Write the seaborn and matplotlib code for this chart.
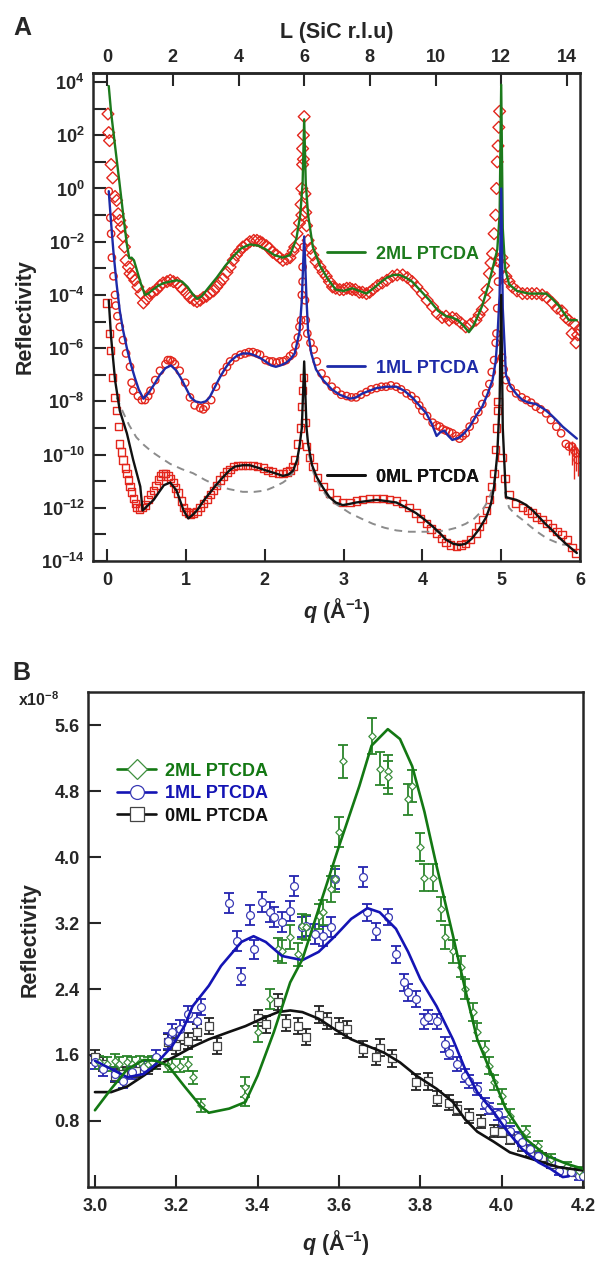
import numpy as np
import matplotlib
matplotlib.use('Agg')
import matplotlib.pyplot as plt
import seaborn as sns
from matplotlib.lines import Line2D
from matplotlib.ticker import NullLocator

sns.set_style('ticks')
plt.rcParams['font.family'] = ['Liberation Sans', 'DejaVu Sans']
plt.rcParams['font.weight'] = 'bold'
plt.rcParams['axes.labelweight'] = 'bold'
plt.rcParams['mathtext.fontset'] = 'custom'
plt.rcParams['mathtext.rm'] = 'Liberation Sans:bold'
plt.rcParams['mathtext.bf'] = 'Liberation Sans:bold'
plt.rcParams['mathtext.it'] = 'Liberation Sans:italic:bold'
plt.rcParams['mathtext.default'] = 'rm'

# ---------------- panel A data (q in 1/A, log10 reflectivity) ----------------
# 2ML PTCDA data (diamonds)
ml2_q = [0.01, 0.02, 0.03, 0.05, 0.07, 0.10, 0.12, 0.14, 0.16, 0.18,
         0.20, 0.22, 0.24, 0.27, 0.29, 0.32, 0.35, 0.39, 0.43, 0.46,
         0.50, 0.54, 0.58, 0.63, 0.67, 0.71, 0.76, 0.80, 0.84, 0.89,
         0.93, 0.96, 1.01, 1.05, 1.10, 1.14, 1.18, 1.22, 1.26, 1.30,
         1.35, 1.39, 1.43, 1.47, 1.52, 1.56, 1.60, 1.64, 1.68, 1.72,
         1.77, 1.81, 1.86, 1.90, 1.94, 1.97, 2.02, 2.06, 2.10, 2.15,
         2.19, 2.23, 2.28, 2.32, 2.36, 2.38, 2.41, 2.44, 2.46, 2.47,
         2.47, 2.48, 2.48, 2.49, 2.49, 2.50, 2.51, 2.52, 2.53, 2.55,
         2.58, 2.61, 2.65, 2.70, 2.74, 2.78, 2.82, 2.86, 2.90, 2.95,
         3.00, 3.04, 3.08, 3.11, 3.15, 3.20, 3.24, 3.29, 3.33, 3.37,
         3.43, 3.49, 3.55, 3.62, 3.68, 3.75, 3.81, 3.87, 3.93, 4.00,
         4.06, 4.13, 4.19, 4.25, 4.30, 4.34, 4.38, 4.43, 4.49, 4.55,
         4.61, 4.68, 4.72, 4.76, 4.79, 4.82, 4.85, 4.87, 4.89, 4.91,
         4.93, 4.94, 4.95, 4.96, 4.97, 4.98, 5.01, 5.03, 5.06, 5.10,
         5.14, 5.20, 5.27, 5.33, 5.39, 5.45, 5.52, 5.58, 5.65, 5.71,
         5.77, 5.82, 5.86, 5.90, 5.93, 5.95, 5.97, 5.99]
ml2_logR = [2.8, 2.1, 1.8, 0.9, 0.4, -0.3, -0.45, -0.95, -1.2, -1.45,
            -1.8, -2.2, -2.7, -2.95, -3.2, -3.3, -3.45, -3.7, -3.95, -4.3,
            -4.15, -3.95, -3.9, -3.8, -3.65, -3.55, -3.5, -3.45, -3.5, -3.55,
            -3.7, -3.8, -3.95, -4.1, -4.2, -4.25, -4.2, -4.1, -4.05, -3.95,
            -3.85, -3.7, -3.55, -3.4, -3.15, -2.95, -2.7, -2.5, -2.35, -2.2,
            -2.1, -2.0, -1.95, -1.95, -2.0, -2.05, -2.15, -2.25, -2.4, -2.5,
            -2.6, -2.7, -2.65, -2.6, -2.35, -2.2, -1.7, -1.3, -0.6, 0.0,
            -1.0, 0.9, 1.5, 2.0, 1.1, 2.7, -0.2, -0.9, -1.4, -1.95,
            -2.25, -2.5, -2.75, -2.95, -3.15, -3.3, -3.5, -3.7, -3.75, -3.8,
            -3.8, -3.75, -3.75, -3.8, -3.8, -3.9, -3.9, -3.95, -3.9, -3.8,
            -3.65, -3.55, -3.45, -3.3, -3.25, -3.25, -3.35, -3.5, -3.7, -3.95,
            -4.2, -4.45, -4.7, -4.85, -4.8, -4.95, -4.85, -4.9, -5.05, -5.2,
            -5.1, -4.95, -4.75, -4.55, -4.1, -3.8, -3.2, -2.8, -2.45, -1.7,
            -1.0, 0.0, 1.0, 1.6, 2.3, 2.9, -2.6, -2.9, -3.3, -3.5,
            -3.7, -3.85, -3.95, -3.95, -3.95, -3.95, -4.0, -4.1, -4.3, -4.5,
            -4.6, -4.85, -4.95, -5.45, -5.1, -5.8, -5.5, -5.3]

# 2ML PTCDA fit
ml2_fit_q = [0.02, 0.05, 0.10, 0.15, 0.20, 0.25, 0.28, 0.31, 0.34, 0.38,
             0.43, 0.48, 0.52, 0.58, 0.65, 0.72, 0.80, 0.88, 0.95, 1.02,
             1.08, 1.14, 1.20, 1.28, 1.39, 1.50, 1.60, 1.70, 1.81, 1.92,
             2.02, 2.12, 2.23, 2.32, 2.40, 2.45, 2.48, 2.50, 2.52, 2.55,
             2.61, 2.70, 2.80, 2.90, 3.00, 3.11, 3.20, 3.29, 3.38, 3.46,
             3.55, 3.63, 3.71, 3.79, 3.87, 3.98, 4.09, 4.20, 4.30, 4.38,
             4.45, 4.52, 4.59, 4.64, 4.68, 4.76, 4.84, 4.90, 4.95, 4.98,
             5.00, 5.02, 5.05, 5.10, 5.20, 5.35, 5.50, 5.57, 5.65, 5.73,
             5.80, 5.86, 5.92, 5.96]
ml2_fit_logR = [3.85, 2.85, 1.6, 0.37, -0.9, -2.1, -2.62, -2.6, -2.7, -3.1,
                -3.6, -4.0, -3.95, -3.8, -3.65, -3.55, -3.5, -3.45, -3.5, -3.7,
                -3.95, -4.15, -4.05, -3.75, -3.35, -2.9, -2.55, -2.25, -2.1, -2.15,
                -2.3, -2.5, -2.6, -2.5, -1.9, -1.0, 0.2, 2.6, 0.2, -1.0,
                -2.2, -2.9, -3.4, -3.8, -3.85, -3.75, -3.85, -3.95, -3.75, -3.55,
                -3.35, -3.25, -3.25, -3.35, -3.5, -3.85, -4.2, -4.6, -4.8, -4.85,
                -4.95, -5.15, -5.4, -5.2, -4.95, -4.4, -3.6, -2.9, -2.3, -1.0,
                3.9, -1.5, -3.0, -3.6, -3.85, -3.95, -3.95, -3.95, -4.15, -4.4,
                -4.7, -4.95, -4.95, -4.95]

# 1ML PTCDA data (circles)
ml1_q = [0.02, 0.04, 0.05, 0.06, 0.08, 0.10, 0.11, 0.13, 0.16, 0.20,
         0.24, 0.29, 0.31, 0.33, 0.39, 0.44, 0.48, 0.52, 0.55, 0.61,
         0.67, 0.74, 0.77, 0.80, 0.83, 0.86, 0.92, 0.99, 1.05, 1.11,
         1.18, 1.22, 1.25, 1.32, 1.38, 1.47, 1.52, 1.56, 1.63, 1.69,
         1.75, 1.80, 1.85, 1.90, 1.94, 2.01, 2.06, 2.10, 2.15, 2.19,
         2.23, 2.27, 2.32, 2.36, 2.39, 2.42, 2.44, 2.46, 2.47, 2.48,
         2.48, 2.49, 2.51, 2.52, 2.54, 2.58, 2.62, 2.66, 2.72, 2.78,
         2.85, 2.91, 2.97, 3.04, 3.10, 3.16, 3.22, 3.29, 3.35, 3.42,
         3.48, 3.54, 3.60, 3.67, 3.73, 3.80, 3.86, 3.92, 3.96, 4.00,
         4.06, 4.13, 4.18, 4.22, 4.26, 4.30, 4.34, 4.38, 4.43, 4.47,
         4.51, 4.55, 4.60, 4.66, 4.71, 4.76, 4.81, 4.85, 4.88, 4.91,
         4.93, 4.94, 4.95, 4.96, 4.97, 5.01, 5.03, 5.06, 5.12, 5.19,
         5.26, 5.32, 5.38, 5.44, 5.50, 5.57, 5.63, 5.70, 5.76, 5.82,
         5.86, 5.90, 5.93, 5.95, 5.97]
ml1_logR = [-0.1, -1.1, -1.7, -2.6, -3.3, -4.0, -4.4, -4.8, -5.2, -5.7,
            -6.2, -6.7, -7.3, -7.6, -7.8, -7.95, -7.95, -7.8, -7.6, -7.2,
            -6.85, -6.6, -6.45, -6.45, -6.5, -6.6, -6.85, -7.3, -7.85, -8.15,
            -8.25, -8.3, -8.2, -7.95, -7.45, -6.9, -6.7, -6.5, -6.35, -6.25,
            -6.2, -6.15, -6.15, -6.2, -6.25, -6.45, -6.5, -6.5, -6.55, -6.5,
            -6.5, -6.45, -6.3, -6.2, -5.9, -5.6, -5.2, -4.95, -4.0, -2.95,
            -3.5, -2.2, -4.2, -4.95, -5.45, -5.8, -6.05, -6.5, -6.95, -7.2,
            -7.45, -7.6, -7.75, -7.8, -7.85, -7.85, -7.75, -7.65, -7.55, -7.5,
            -7.45, -7.45, -7.4, -7.45, -7.55, -7.7, -7.8, -7.95, -8.15, -8.35,
            -8.55, -8.8, -8.9, -8.95, -9.05, -9.1, -9.15, -9.2, -9.3, -9.4,
            -9.3, -9.2, -8.95, -8.7, -8.4, -8.1, -7.7, -7.35, -6.9, -6.45,
            -5.8, -5.45, -4.5, -3.5, -2.8, -6.35, -6.8, -7.2, -7.5, -7.7,
            -7.85, -7.95, -8.05, -8.2, -8.3, -8.45, -8.7, -8.95, -9.2, -9.6,
            -9.7, -9.7, -9.85, -9.95, -10.2]
# error bars at the high-q end of 1ML
ml1_err_q = [5.86, 5.90, 5.93, 5.95, 5.97]
ml1_err_lo = [-10.0, -10.4, -10.9, -10.6, -10.8]
ml1_err_hi = [-9.5, -9.5, -9.6, -9.7, -9.9]

# 1ML PTCDA fit
ml1_fit_q = [0.02, 0.05, 0.08, 0.12, 0.16, 0.20, 0.25, 0.30, 0.35, 0.40,
             0.46, 0.52, 0.60, 0.67, 0.74, 0.81, 0.88, 0.94, 1.00, 1.06,
             1.12, 1.19, 1.25, 1.30, 1.36, 1.43, 1.50, 1.56, 1.64, 1.72,
             1.80, 1.85, 1.93, 2.01, 2.08, 2.14, 2.20, 2.27, 2.33, 2.38,
             2.44, 2.47, 2.50, 2.53, 2.55, 2.59, 2.65, 2.74, 2.85, 2.95,
             3.08, 3.16, 3.24, 3.33, 3.42, 3.55, 3.67, 3.77, 3.87, 3.96,
             4.05, 4.12, 4.18, 4.23, 4.28, 4.33, 4.38, 4.43, 4.47, 4.53,
             4.60, 4.68, 4.76, 4.83, 4.89, 4.93, 4.95, 4.98, 5.00, 5.02,
             5.06, 5.12, 5.20, 5.27, 5.35, 5.44, 5.55, 5.63, 5.70, 5.78,
             5.86, 5.96]
ml1_fit_logR = [-0.1, -1.3, -2.4, -3.6, -4.6, -5.3, -6.0, -6.6, -7.1, -7.55,
                -7.9, -7.7, -7.35, -7.0, -6.75, -6.65, -6.85, -7.15, -7.5, -7.85,
                -8.0, -8.05, -8.0, -7.85, -7.5, -7.1, -6.75, -6.5, -6.3, -6.2,
                -6.2, -6.25, -6.35, -6.5, -6.65, -6.7, -6.65, -6.55, -6.4, -6.2,
                -5.4, -4.2, -1.8, -4.2, -5.4, -6.2, -6.8, -7.2, -7.55, -7.75,
                -7.9, -7.85, -7.7, -7.6, -7.5, -7.45, -7.45, -7.6, -7.85, -8.15,
                -8.45, -8.85, -9.3, -9.15, -9.1, -9.3, -9.45, -9.4, -9.35, -9.2,
                -8.95, -8.55, -8.2, -7.7, -7.2, -6.5, -5.7, -4.0, 0.0, -4.5,
                -7.0, -7.45, -7.75, -7.95, -8.05, -8.1, -8.3, -8.5, -8.7, -8.95,
                -9.15, -9.4]

# 0ML PTCDA data (squares)
ml0_q = [0.00, 0.03, 0.04, 0.07, 0.10, 0.12, 0.14, 0.16, 0.18, 0.20,
         0.23, 0.25, 0.27, 0.29, 0.31, 0.33, 0.36, 0.38, 0.41, 0.44,
         0.48, 0.52, 0.55, 0.59, 0.62, 0.65, 0.68, 0.71, 0.74, 0.77,
         0.80, 0.84, 0.87, 0.90, 0.94, 0.97, 1.00, 1.03, 1.06, 1.09,
         1.14, 1.18, 1.22, 1.27, 1.31, 1.35, 1.39, 1.43, 1.48, 1.52,
         1.56, 1.60, 1.66, 1.72, 1.78, 1.85, 1.91, 1.98, 2.04, 2.10,
         2.17, 2.23, 2.28, 2.32, 2.36, 2.38, 2.42, 2.45, 2.47, 2.48,
         2.49, 2.51, 2.53, 2.57, 2.61, 2.67, 2.74, 2.82, 2.91, 2.99,
         3.08, 3.16, 3.24, 3.33, 3.42, 3.50, 3.58, 3.67, 3.75, 3.83,
         3.92, 3.98, 4.05, 4.11, 4.18, 4.24, 4.30, 4.36, 4.43, 4.49,
         4.55, 4.61, 4.68, 4.72, 4.76, 4.81, 4.85, 4.88, 4.91, 4.93,
         4.94, 4.95, 4.96, 5.01, 5.05, 5.10, 5.18, 5.27, 5.33, 5.39,
         5.45, 5.52, 5.58, 5.65, 5.71, 5.77, 5.84, 5.90, 5.95]
ml0_logR = [-4.3, -5.45, -6.1, -7.1, -7.85, -8.35, -8.95, -9.6, -9.9, -10.2,
            -10.5, -10.7, -10.95, -11.2, -11.4, -11.65, -11.85, -12.0, -12.05, -12.0,
            -11.9, -11.7, -11.5, -11.35, -11.15, -10.95, -10.8, -10.7, -10.7, -10.8,
            -10.9, -11.05, -11.25, -11.45, -11.75, -12.0, -12.15, -12.2, -12.25, -12.2,
            -12.15, -12.0, -11.85, -11.7, -11.5, -11.35, -11.15, -10.95, -10.8, -10.65,
            -10.55, -10.45, -10.4, -10.4, -10.4, -10.4, -10.45, -10.5, -10.6, -10.65,
            -10.7, -10.7, -10.65, -10.6, -10.45, -10.2, -9.6, -9.0, -8.2, -7.6,
            -7.1, -8.8, -9.7, -10.1, -10.45, -10.85, -11.2, -11.45, -11.7, -11.8,
            -11.8, -11.75, -11.7, -11.65, -11.65, -11.65, -11.7, -11.75, -11.85, -12.0,
            -12.2, -12.4, -12.6, -12.8, -12.95, -13.15, -13.3, -13.4, -13.45, -13.4,
            -13.35, -13.2, -12.95, -12.7, -12.45, -12.1, -11.7, -11.2, -10.7, -9.8,
            -9.0, -8.35, -8.0, -10.1, -10.9, -11.5, -11.85, -12.0, -12.1, -12.2,
            -12.35, -12.45, -12.6, -12.75, -12.9, -13.0, -13.2, -13.5, -13.7]

# 0ML PTCDA fit
ml0_fit_q = [0.02, 0.05, 0.10, 0.16, 0.25, 0.33, 0.42, 0.45, 0.52, 0.59,
             0.66, 0.72, 0.80, 0.88, 0.97, 1.03, 1.09, 1.14, 1.22, 1.30,
             1.38, 1.47, 1.55, 1.62, 1.72, 1.81, 1.92, 2.02, 2.13, 2.23,
             2.30, 2.36, 2.41, 2.44, 2.47, 2.50, 2.53, 2.55, 2.60, 2.66,
             2.74, 2.82, 2.90, 2.99, 3.08, 3.16, 3.29, 3.42, 3.55, 3.67,
             3.80, 3.92, 4.03, 4.13, 4.22, 4.30, 4.39, 4.47, 4.55, 4.63,
             4.72, 4.81, 4.87, 4.91, 4.95, 4.98, 5.00, 5.02, 5.06, 5.12,
             5.19, 5.26, 5.32, 5.40, 5.48, 5.56, 5.65, 5.73, 5.82, 5.90,
             5.96]
ml0_fit_logR = [-4.2, -5.6, -7.2, -8.35, -9.2, -10.2, -11.2, -12.1, -11.9, -11.7,
                -11.4, -11.15, -11.05, -11.35, -12.1, -12.4, -12.25, -12.1, -11.75, -11.45,
                -11.15, -10.85, -10.6, -10.45, -10.4, -10.4, -10.5, -10.6, -10.7, -10.8,
                -10.75, -10.6, -10.2, -9.7, -9.0, -6.5, -9.0, -9.6, -10.4, -10.85,
                -11.25, -11.6, -11.8, -11.9, -11.85, -11.8, -11.75, -11.7, -11.75, -11.8,
                -12.0, -12.2, -12.45, -12.7, -12.95, -13.2, -13.35, -13.4, -13.35, -13.15,
                -12.8, -12.35, -11.85, -11.2, -10.0, -8.0, -4.0, -9.0, -11.6, -11.65,
                -11.7, -11.8, -11.9, -12.1, -12.35, -12.6, -12.85, -13.1, -13.35, -13.55,
                -13.7]

# bare substrate CTR (dashed), three branches between Bragg peaks
ctr1_q = [0.12, 0.20, 0.28, 0.37, 0.47, 0.57, 0.67, 0.80, 0.95, 1.09,
          1.24, 1.38, 1.55, 1.72, 1.87, 2.01, 2.13, 2.23, 2.30, 2.35, 2.40, 2.44]
ctr1_logR = [-7.85, -8.4, -8.9, -9.35, -9.65, -9.9, -10.1, -10.35, -10.55, -10.7,
             -10.95, -11.15, -11.3, -11.4, -11.4, -11.35, -11.2, -11.05, -10.9, -10.7, -10.4, -9.9]
ctr2_q = [2.56, 2.62, 2.70, 2.82, 2.95, 3.08, 3.22, 3.37, 3.52, 3.67,
          3.83, 4.00, 4.15, 4.30, 4.43, 4.55, 4.66, 4.76, 4.84, 4.90, 4.94]
ctr2_logR = [-10.0, -10.7, -11.2, -11.7, -11.95, -12.2, -12.4, -12.6, -12.75, -12.85,
             -12.9, -12.9, -12.9, -12.85, -12.75, -12.6, -12.4, -12.1, -11.7, -11.2, -10.5]
ctr3_q = [5.05, 5.10, 5.18, 5.27, 5.37, 5.48, 5.58, 5.70, 5.78, 5.86]
ctr3_logR = [-11.4, -12.0, -12.25, -12.45, -12.7, -12.95, -13.15, -13.3, -13.38, -13.4]

# ---------------- panel B data (x1e-8) ----------------
b2_q = [3.01, 3.03, 3.05, 3.06, 3.08, 3.09, 3.11, 3.13, 3.14, 3.18,
        3.19, 3.21, 3.23, 3.24, 3.26, 3.37, 3.37, 3.40, 3.43, 3.45,
        3.46, 3.48, 3.50, 3.51, 3.52, 3.55, 3.56, 3.58, 3.59, 3.60,
        3.61, 3.68, 3.70, 3.72, 3.72, 3.77, 3.78, 3.80, 3.81, 3.83,
        3.85, 3.86, 3.88, 3.90, 3.91, 3.93, 3.94, 3.96, 3.97, 3.98,
        4.00, 4.02, 4.06, 4.09, 4.12, 4.16, 4.19]
b2_val = [1.51, 1.49, 1.53, 1.49, 1.51, 1.49, 1.51, 1.49, 1.51, 1.47,
          1.47, 1.47, 1.49, 1.33, 0.99, 1.10, 1.21, 1.88, 2.28, 2.88,
          2.86, 3.03, 2.82, 3.16, 3.15, 3.28, 3.33, 3.61, 3.73, 4.30,
          5.16, 5.47, 5.07, 5.04, 4.97, 4.70, 4.86, 4.12, 3.75, 3.75,
          3.37, 3.03, 2.86, 2.67, 2.40, 2.12, 1.88, 1.67, 1.47, 1.27,
          1.10, 0.86, 0.67, 0.50, 0.34, 0.25, 0.19]
b2_err = [0.08, 0.08, 0.08, 0.08, 0.08, 0.08, 0.08, 0.08, 0.08, 0.08,
          0.08, 0.08, 0.08, 0.08, 0.08, 0.12, 0.12, 0.12, 0.12, 0.14,
          0.14, 0.14, 0.14, 0.15, 0.15, 0.15, 0.15, 0.16, 0.16, 0.18,
          0.20, 0.22, 0.20, 0.20, 0.20, 0.19, 0.19, 0.17, 0.16, 0.16,
          0.15, 0.14, 0.14, 0.13, 0.12, 0.11, 0.11, 0.10, 0.10, 0.09,
          0.09, 0.08, 0.07, 0.06, 0.06, 0.05, 0.05]

b1_q = [3.00, 3.02, 3.05, 3.07, 3.09, 3.12, 3.15, 3.18, 3.19, 3.21,
        3.23, 3.25, 3.26, 3.33, 3.35, 3.36, 3.38, 3.39, 3.41, 3.43,
        3.44, 3.46, 3.48, 3.49, 3.51, 3.52, 3.54, 3.56, 3.58, 3.59,
        3.66, 3.67, 3.69, 3.72, 3.74, 3.76, 3.77, 3.79, 3.81, 3.82,
        3.84, 3.86, 3.87, 3.89, 3.91, 3.92, 3.94, 3.96, 3.97, 3.99,
        4.00, 4.02, 4.04, 4.05, 4.07, 4.09, 4.12, 4.14, 4.17, 4.19,
        4.20]
b1_val = [1.51, 1.43, 1.37, 1.28, 1.39, 1.45, 1.58, 1.77, 1.88, 1.92,
          2.10, 2.01, 2.18, 3.44, 2.98, 2.55, 3.30, 2.88, 3.45, 3.33,
          3.27, 3.21, 3.35, 3.65, 3.15, 3.16, 3.07, 3.04, 3.15, 3.73,
          3.76, 3.33, 3.10, 3.27, 2.82, 2.48, 2.36, 2.28, 2.01, 2.06,
          2.01, 1.73, 1.63, 1.49, 1.35, 1.28, 1.19, 1.01, 0.95, 0.88,
          0.79, 0.68, 0.61, 0.55, 0.46, 0.38, 0.30, 0.19, 0.18, 0.13,
          0.13]
b1_err = [0.08, 0.08, 0.08, 0.08, 0.08, 0.08, 0.08, 0.10, 0.10, 0.10,
          0.10, 0.10, 0.10, 0.12, 0.12, 0.10, 0.12, 0.12, 0.12, 0.12,
          0.12, 0.12, 0.12, 0.12, 0.12, 0.12, 0.12, 0.12, 0.12, 0.12,
          0.12, 0.10, 0.10, 0.10, 0.10, 0.10, 0.10, 0.10, 0.09, 0.09,
          0.09, 0.09, 0.08, 0.08, 0.08, 0.08, 0.07, 0.07, 0.07, 0.07,
          0.06, 0.06, 0.06, 0.05, 0.05, 0.05, 0.05, 0.05, 0.04, 0.04,
          0.04]

b0_q = [3.00, 3.02, 3.05, 3.07, 3.10, 3.13, 3.15, 3.18, 3.20, 3.21,
        3.23, 3.25, 3.28, 3.30, 3.40, 3.42, 3.45, 3.47, 3.50, 3.52,
        3.55, 3.57, 3.60, 3.62, 3.66, 3.69, 3.70, 3.73, 3.79, 3.82,
        3.84, 3.87, 3.89, 3.92, 3.95, 3.98, 4.00, 4.02, 4.05, 4.07,
        4.10, 4.12, 4.15, 4.18]
b0_val = [1.58, 1.49, 1.35, 1.37, 1.41, 1.45, 1.51, 1.76, 1.71, 1.83,
          1.77, 1.88, 1.95, 1.71, 2.05, 1.97, 2.24, 1.99, 1.95, 1.82,
          2.09, 2.01, 1.95, 1.91, 1.67, 1.58, 1.69, 1.56, 1.27, 1.28,
          1.07, 1.02, 0.95, 0.86, 0.79, 0.68, 0.67, 0.58, 0.50, 0.42,
          0.36, 0.28, 0.18, 0.18]
b0_err = [0.08, 0.08, 0.08, 0.08, 0.08, 0.08, 0.08, 0.10, 0.10, 0.10,
          0.10, 0.10, 0.10, 0.10, 0.10, 0.10, 0.10, 0.10, 0.10, 0.10,
          0.10, 0.10, 0.10, 0.10, 0.10, 0.10, 0.10, 0.10, 0.10, 0.10,
          0.09, 0.09, 0.08, 0.08, 0.08, 0.07, 0.07, 0.06, 0.06, 0.05,
          0.05, 0.05, 0.04, 0.04]

b2_fit_q = [3.00, 3.04, 3.08, 3.12, 3.15, 3.18, 3.22, 3.26, 3.28, 3.33,
            3.37, 3.40, 3.44, 3.48, 3.51, 3.55, 3.60, 3.65, 3.68, 3.72,
            3.75, 3.78, 3.81, 3.84, 3.88, 3.91, 3.94, 3.98, 4.01, 4.06,
            4.11, 4.16, 4.20]
b2_fit_val = [0.93, 1.19, 1.43, 1.54, 1.53, 1.47, 1.22, 0.98, 0.90, 0.95,
              1.03, 1.35, 1.88, 2.48, 2.76, 3.37, 4.13, 4.86, 5.35, 5.55,
              5.43, 5.10, 4.55, 3.89, 3.05, 2.40, 1.79, 1.31, 0.95, 0.58,
              0.38, 0.28, 0.22]
b1_fit_q = [3.00, 3.04, 3.08, 3.12, 3.15, 3.19, 3.22, 3.24, 3.28, 3.31,
            3.36, 3.39, 3.42, 3.46, 3.51, 3.55, 3.59, 3.63, 3.67, 3.70,
            3.74, 3.77, 3.80, 3.84, 3.88, 3.91, 3.94, 3.98, 4.01, 4.05,
            4.09, 4.12, 4.15, 4.165]
b1_fit_val = [1.53, 1.43, 1.33, 1.37, 1.49, 1.71, 1.95, 2.19, 2.44, 2.68,
              2.97, 3.04, 2.97, 2.80, 2.75, 2.85, 3.04, 3.25, 3.38, 3.33,
              3.13, 2.85, 2.52, 2.19, 1.79, 1.43, 1.15, 0.91, 0.70, 0.46,
              0.30, 0.22, 0.12, 0.13]
b0_fit_q = [3.00, 3.04, 3.08, 3.12, 3.16, 3.20, 3.24, 3.28, 3.33, 3.37,
            3.41, 3.45, 3.48, 3.51, 3.55, 3.59, 3.63, 3.67, 3.71, 3.75,
            3.79, 3.84, 3.88, 3.91, 3.94, 3.98, 4.02, 4.06, 4.10, 4.14,
            4.20]
b0_fit_val = [1.15, 1.15, 1.22, 1.35, 1.49, 1.59, 1.70, 1.79, 1.88, 1.95,
              2.04, 2.12, 2.14, 2.12, 2.04, 1.91, 1.79, 1.71, 1.63, 1.51,
              1.35, 1.19, 1.03, 0.82, 0.67, 0.55, 0.42, 0.36, 0.30, 0.24,
              0.20]

labels = ['2ML PTCDA', '1ML PTCDA', '0ML PTCDA']
a_decades = list(range(-14, 5))
a_xticks = [0, 1, 2, 3, 4, 5, 6]
L_ticks = [0, 2, 4, 6, 8, 10, 12, 14]
b_xticks = [3.0, 3.2, 3.4, 3.6, 3.8, 4.0, 4.2]
b_yticks = [0.8, 1.6, 2.4, 3.2, 4.0, 4.8, 5.6]

red = '#e3261c'
green = '#1c7a1c'
blue = '#1d2aa8'
black = '#111111'
gray = '#8c8c8c'

fig = plt.figure(figsize=(5.98, 12.61), dpi=100)
axA = fig.add_axes([0.1555, 0.5551, 0.8144, 0.387])
axB = fig.add_axes([0.1472, 0.0587, 0.8278, 0.3925])

def R(v):
    return 10 ** np.asarray(v, dtype=float)

# ---------- panel A ----------
mk = dict(facecolor='none', edgecolor=red, linewidth=1.0, ax=axA, zorder=2, legend=False)
sns.scatterplot(x=ml2_q, y=R(ml2_logR), marker='D', s=36, **mk)
sns.scatterplot(x=ml1_q, y=R(ml1_logR), marker='o', s=28, **mk)
sns.scatterplot(x=ml0_q, y=R(ml0_logR), marker='s', s=28, **mk)
axA.vlines(ml1_err_q, R(ml1_err_lo), R(ml1_err_hi), color=red, lw=1.0, zorder=2)

for cq, cr in [(ctr1_q, ctr1_logR), (ctr2_q, ctr2_logR), (ctr3_q, ctr3_logR)]:
    sns.lineplot(x=cq, y=R(cr), color=gray, lw=1.4, ls=(0, (4, 3)), ax=axA,
                 sort=False, estimator=None, zorder=3)

for fq, fr, col in [(ml2_fit_q, ml2_fit_logR, green),
                    (ml1_fit_q, ml1_fit_logR, blue),
                    (ml0_fit_q, ml0_fit_logR, black)]:
    sns.lineplot(x=fq, y=R(fr), color=col, lw=1.7, ax=axA,
                 sort=False, estimator=None, zorder=4)

axA.set_yscale('log')
axA.set_xlim(-0.18, 6.0)
axA.set_ylim(1e-14, 10 ** 4.34)
axA.set_yticks([10.0 ** p for p in a_decades])
axA.set_yticklabels([f'$10^{{{p}}}$' if p % 2 == 0 else '' for p in a_decades])
axA.yaxis.set_minor_locator(NullLocator())
axA.set_xticks(a_xticks)
axA.tick_params(direction='in', length=9, width=1.5, labelsize=13, pad=6,
                top=False, right=False)
axA.tick_params(axis='x', pad=8)
for sp in axA.spines.values():
    sp.set_linewidth(1.8)
    sp.set_visible(True)
axA.set_ylabel('Reflectivity', fontsize=15.5, labelpad=4)
axA.set_xlabel(r'$\mathit{q}$ (Å$^{-1}$)', fontsize=15.5, labelpad=5)

top = axA.secondary_xaxis('top', functions=(lambda q: q * 2.4, lambda L: L / 2.4))
top.set_xticks(L_ticks)
top.tick_params(direction='in', length=9, width=1.5, labelsize=13, pad=5)
top.spines['top'].set_linewidth(1.8)
top.set_xlabel('L (SiC r.l.u)', fontsize=15.5, labelpad=8)

for lab, col, ypos in zip(labels, [green, blue, black], [0.629, 0.395, 0.172]):
    leg = axA.legend(handles=[Line2D([], [], color=col, lw=2)], labels=[lab],
                     loc='center left', bbox_to_anchor=(0.48, ypos), frameon=False,
                     handlelength=2.1, handletextpad=0.6, borderpad=0, borderaxespad=0,
                     prop={'weight': 'bold', 'size': 13}, labelcolor=col)
    axA.add_artist(leg)

# ---------- panel B ----------
pt_col = ['#3f8f3f', '#3a3ab5', '#444444']
err_col = ['#2a852a', '#2323b0', '#222222']
fit_col = ['#137813', '#1414b4', black]
markers = ['D', 'o', 's']
sizes = [14, 32, 36]
sets = [(b2_q, b2_val, b2_err), (b1_q, b1_val, b1_err), (b0_q, b0_val, b0_err)]
fits = [(b2_fit_q, b2_fit_val), (b1_fit_q, b1_fit_val), (b0_fit_q, b0_fit_val)]

for i in (2, 1, 0):
    q, v, e = sets[i]
    axB.errorbar(q, v, yerr=e, fmt='none', ecolor=err_col[i], elinewidth=1.3,
                 capsize=3.5, capthick=1.3, zorder=2)
    sns.scatterplot(x=q, y=v, marker=markers[i], s=sizes[i], facecolor='white',
                    edgecolor=pt_col[i], linewidth=0.9, ax=axB, zorder=3, legend=False)
for i in (2, 1, 0):
    fq, fv = fits[i]
    sns.lineplot(x=fq, y=fv, color=fit_col[i], lw=1.9, ax=axB,
                 sort=False, estimator=None, zorder=4)

axB.set_xlim(2.983, 4.2)
axB.set_ylim(0, 6.0)
axB.set_xticks(b_xticks)
axB.set_xticklabels([f'{t:.1f}' for t in b_xticks])
axB.set_yticks(b_yticks)
axB.set_yticklabels([f'{t:.1f}' for t in b_yticks])
axB.tick_params(direction='in', length=9, width=1.5, labelsize=13, pad=6,
                top=False, right=False)
axB.tick_params(axis='x', pad=8)
for sp in axB.spines.values():
    sp.set_linewidth(1.8)
    sp.set_visible(True)
axB.set_ylabel('Reflectivity', fontsize=15.5, labelpad=10)
axB.set_xlabel(r'$\mathit{q}$ (Å$^{-1}$)', fontsize=15.5, labelpad=9)
axB.text(-0.141, 0.984, r'x10$^{-8}$', transform=axB.transAxes, fontsize=11.5,
         ha='left', va='center')

handles = [Line2D([], [], color=fit_col[i], lw=1.9, marker=markers[i], markersize=10,
                  mfc='white', mec=pt_col[i], mew=0.9) for i in range(3)]
axB.legend(handles=handles, labels=labels, loc='upper left', bbox_to_anchor=(0.058, 0.857),
           frameon=False, handlelength=2.2, handletextpad=0.5, borderpad=0, borderaxespad=0,
           labelspacing=0.3, prop={'weight': 'bold', 'size': 13},
           labelcolor=[fit_col[0], fit_col[1], black])

fig.text(0.022, 0.978, 'A', fontsize=18, weight='bold', va='center', ha='left')
fig.text(0.020, 0.466, 'B', fontsize=18, weight='bold', va='center', ha='left')

fig.savefig('out.png', dpi=100)
